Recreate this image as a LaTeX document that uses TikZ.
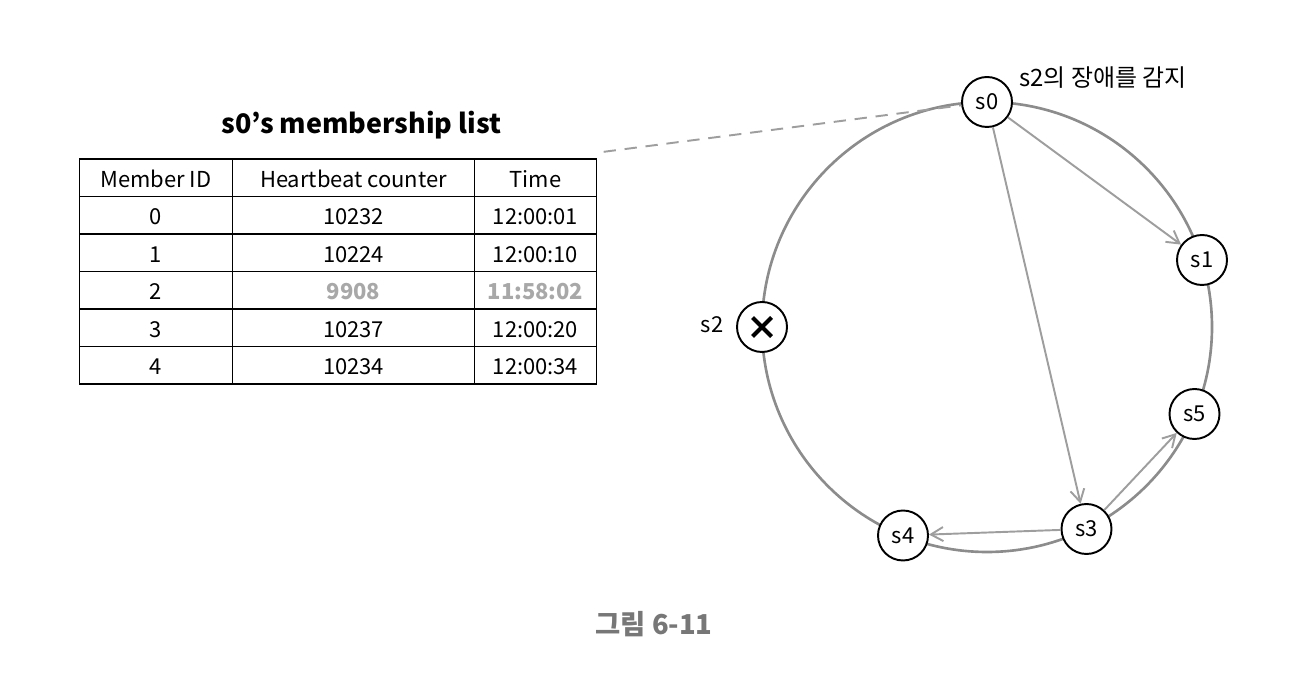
\documentclass[tikz,border=0pt]{standalone}
\usepackage{fontspec}
\setmainfont{Noto Sans CJK KR}
\usetikzlibrary{matrix,arrows.meta}

\definecolor{ringgray}{HTML}{8C8C8C}
\definecolor{arrowgray}{HTML}{9E9E9E}
\definecolor{deadgray}{HTML}{A8A8A8}
\definecolor{capgray}{HTML}{777777}

\tikzset{
  server/.style={draw, circle, fill=white, line width=1.1pt, minimum size=1cm, inner sep=0pt,
    font=\fontsize{12.5}{15}\selectfont},
  downserver/.style={server, path picture={
      \draw[line width=2.4pt] ([shift={(-0.19,-0.19)}]path picture bounding box.center) -- ++(0.38,0.38);
      \draw[line width=2.4pt] ([shift={(-0.19,0.19)}]path picture bounding box.center) -- ++(0.38,-0.38);}},
  gossip/.style={draw=arrowgray, line width=1.1pt, -{Straight Barb[length=7pt,width=8pt]}},
  ring/.style={draw=ringgray, line width=1.5pt},
  dead/.style={text=deadgray, font=\fontsize{12.5}{15}\selectfont\bfseries}
}

\begin{document}
\begin{tikzpicture}
    \useasboundingbox (0,0) rectangle (26.32,13.48);

    % Ring
    \draw[ring] (19.74,6.94) circle (4.5);

    % Nodes
    \node at (19.74,11.44) (s0) [server] {s0};
    \node at (24.04,8.28) (s1) [server] {s1};
    \node at (23.89,5.20) (s5) [server] {s5};
    \node at (21.73,2.90) (s3) [server] {s3};
    \node at (18.06,2.77) (s4) [server] {s4};
    \node at (15.24,6.94) (s2) [downserver] {};

    % Table
    \node at (7.23,10.98) (title) {\fontsize{15.3}{18}\selectfont\bfseries s0’s membership list};
    \matrix at (6.76,8.05) (members) [matrix of nodes, column sep=-1.1pt, row sep=-1.1pt,
      nodes={draw, line width=1.1pt, minimum height=0.75cm, inner sep=0pt,
        text height=2.35ex, text depth=0.35ex, font=\fontsize{12.5}{15}\selectfont},
      column 1/.style={nodes={minimum width=3.06cm}},
      column 2/.style={nodes={minimum width=4.84cm}},
      column 3/.style={nodes={minimum width=2.44cm}}]
    {
      Member ID & Heartbeat counter & Time \\
      0 & 10232 & 12:00:01 \\
      1 & 10224 & 12:00:10 \\
      2 & |[dead]| 9908 & |[dead]| 11:58:02 \\
      3 & 10237 & 12:00:20 \\
      4 & 10234 & 12:00:34 \\
    };

    % Arrows
    \draw[gossip] (s0) -- (s1);
    \draw[gossip] (s0) -- (s3);
    \draw[gossip] (s3) -- (s5);
    \draw[gossip] (s3) -- (s4);
    \draw[draw=arrowgray, line width=1.1pt, dashed, dash pattern=on 7pt off 5pt] (members.north east) -- (s0);

    % Labels
    \node at (14.24,6.98) (s2label) {\fontsize{12.5}{15}\selectfont s2};
    \node at (22.06,11.93) (detect) {\fontsize{13.6}{16}\selectfont s2의 장애를 감지};
    \node at (13.08,1.0) (caption) {\fontsize{15.6}{18}\selectfont\bfseries\color{capgray}그림 6-11};
\end{tikzpicture}
\end{document}
